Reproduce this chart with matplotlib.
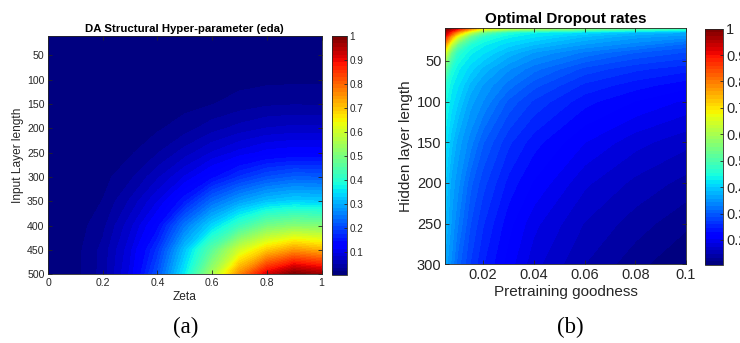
import numpy as np
import matplotlib
matplotlib.use("Agg")
import matplotlib.pyplot as plt

plt.rcParams["font.family"] = ["Liberation Sans", "DejaVu Sans"]

# ---- Panel (a): DA structural hyper-parameter over zeta / input layer length
zeta = [0.0, 0.1, 0.2, 0.3, 0.4, 0.5, 0.6, 0.7, 0.8, 0.9, 1.0]
input_len = [0, 50, 100, 150, 200, 250, 300, 350, 400, 450, 500]
eda = [
    [0.003, 0.003, 0.004, 0.004, 0.005, 0.005, 0.006, 0.006, 0.007, 0.007, 0.007],
    [0.003, 0.004, 0.004, 0.005, 0.006, 0.007, 0.008, 0.009, 0.009, 0.010, 0.010],
    [0.004, 0.004, 0.005, 0.006, 0.008, 0.0095, 0.011, 0.013, 0.0145, 0.015, 0.015],
    [0.004, 0.004, 0.005, 0.007, 0.0095, 0.013, 0.018, 0.025, 0.031, 0.033, 0.032],
    [0.004, 0.005, 0.006, 0.009, 0.016, 0.027, 0.043, 0.056, 0.066, 0.070, 0.070],
    [0.004, 0.006, 0.009, 0.016, 0.033, 0.057, 0.082, 0.102, 0.118, 0.124, 0.122],
    [0.004, 0.007, 0.013, 0.030, 0.062, 0.098, 0.137, 0.177, 0.207, 0.223, 0.220],
    [0.004, 0.009, 0.019, 0.052, 0.096, 0.156, 0.234, 0.285, 0.320, 0.336, 0.330],
    [0.004, 0.010, 0.029, 0.075, 0.135, 0.247, 0.338, 0.420, 0.490, 0.513, 0.505],
    [0.005, 0.012, 0.039, 0.091, 0.180, 0.320, 0.460, 0.600, 0.690, 0.745, 0.720],
    [0.005, 0.013, 0.040, 0.100, 0.210, 0.360, 0.550, 0.760, 0.920, 1.000, 0.970],
]

# ---- Panel (b): optimal dropout rate over pretraining goodness / hidden length
goodness = [0.005, 0.0075, 0.01, 0.015, 0.02, 0.03, 0.04, 0.06, 0.08, 0.1]
hidden_len = [10, 15, 20, 30, 40, 60, 80, 100, 150, 200, 250, 300]
dropout = [
    [1.000, 0.960, 0.920, 0.800, 0.700, 0.640, 0.610, 0.570, 0.530, 0.500],
    [0.950, 0.870, 0.770, 0.630, 0.530, 0.455, 0.430, 0.410, 0.385, 0.370],
    [0.900, 0.770, 0.660, 0.530, 0.465, 0.430, 0.415, 0.385, 0.362, 0.350],
    [0.770, 0.630, 0.530, 0.455, 0.430, 0.405, 0.385, 0.355, 0.335, 0.310],
    [0.660, 0.530, 0.465, 0.430, 0.415, 0.380, 0.355, 0.325, 0.300, 0.285],
    [0.530, 0.455, 0.430, 0.405, 0.380, 0.345, 0.320, 0.282, 0.262, 0.250],
    [0.465, 0.430, 0.415, 0.380, 0.355, 0.322, 0.292, 0.255, 0.237, 0.222],
    [0.445, 0.420, 0.400, 0.362, 0.342, 0.297, 0.270, 0.236, 0.216, 0.200],
    [0.420, 0.390, 0.365, 0.335, 0.302, 0.262, 0.237, 0.203, 0.180, 0.165],
    [0.400, 0.365, 0.348, 0.305, 0.278, 0.240, 0.215, 0.178, 0.157, 0.142],
    [0.385, 0.355, 0.330, 0.287, 0.260, 0.222, 0.193, 0.160, 0.140, 0.122],
    [0.365, 0.340, 0.308, 0.272, 0.246, 0.210, 0.180, 0.147, 0.124, 0.105],
]

a_xticks = [0, 0.2, 0.4, 0.6, 0.8, 1]
a_xticklabels = ["0", "0.2", "0.4", "0.6", "0.8", "1"]
a_yticks = [50, 100, 150, 200, 250, 300, 350, 400, 450, 500]
a_cticks = [0.1, 0.2, 0.3, 0.4, 0.5, 0.6, 0.7, 0.8, 0.9, 1]
a_cticklabels = ["0.1", "0.2", "0.3", "0.4", "0.5", "0.6", "0.7", "0.8", "0.9", "1"]

b_xticks = [0.02, 0.04, 0.06, 0.08, 0.1]
b_xticklabels = ["0.02", "0.04", "0.06", "0.08", "0.1"]
b_yticks = [50, 100, 150, 200, 250, 300]
b_cticks = [0.2, 0.3, 0.4, 0.5, 0.6, 0.7, 0.8, 0.9, 1]
b_cticklabels = ["0.2", "0.3", "0.4", "0.5", "0.6", "0.7", "0.8", "0.9", "1"]

EDGE = (0.15, 0.15, 0.15)
cmap = plt.get_cmap("jet", 64)

fig = plt.figure(figsize=(7.4, 3.43), dpi=100)


def style_axes(ax, fs, lw=0.6):
    for s in ax.spines.values():
        s.set_color(EDGE)
        s.set_linewidth(lw)
    ax.tick_params(direction="in", length=3, width=lw, colors=EDGE,
                   labelsize=fs, top=True, right=True, pad=2.5)


def style_cbar(cb, fs, lw=0.6):
    cb.outline.set_edgecolor(EDGE)
    cb.outline.set_linewidth(lw)
    cb.ax.tick_params(direction="in", length=2.5, width=lw, colors=EDGE,
                      labelsize=fs, pad=2)


def heat(ax, cax, x, y, z, fs_tick, fs_cbar, cticks, cticklabels):
    z = np.asarray(z)
    lo, hi = z.min(), z.max()
    levels = np.linspace(lo, hi, 129)
    cs = ax.contourf(x, y, z, levels=levels, cmap=cmap, vmin=lo, vmax=hi)
    cb = fig.colorbar(cs, cax=cax)
    cb.set_ticks(cticks)
    cb.set_ticklabels(cticklabels)
    style_axes(ax, fs_tick)
    style_cbar(cb, fs_cbar)
    return cs


# Panel (a)
ax1 = fig.add_axes([0.0649, 0.2003, 0.3696, 0.6948])
cax1 = fig.add_axes([0.4482, 0.1983, 0.0203, 0.697])
heat(ax1, cax1, zeta, input_len, eda, 7.6, 7.1, a_cticks, a_cticklabels)
ax1.set_xlim(0, 1)
ax1.set_ylim(500, 10)
ax1.set_xticks(a_xticks)
ax1.set_xticklabels(a_xticklabels)
ax1.set_yticks(a_yticks)
ax1.set_title("DA Structural Hyper-parameter (eda)", fontsize=8.2,
              fontweight="bold", pad=3)
ax1.set_xlabel("Zeta", fontsize=8.6, color=EDGE, labelpad=2)
ax1.set_ylabel("Input Layer length", fontsize=8.6, color=EDGE, labelpad=2)

# Panel (b)
ax2 = fig.add_axes([0.6014, 0.2294, 0.3257, 0.688])
cax2 = fig.add_axes([0.9527, 0.2274, 0.0247, 0.689])
heat(ax2, cax2, goodness, hidden_len, dropout, 10.5, 10.5, b_cticks, b_cticklabels)
ax2.set_xlim(0.005, 0.1)
ax2.set_ylim(300, 10)
ax2.set_xticks(b_xticks)
ax2.set_xticklabels(b_xticklabels)
ax2.set_yticks(b_yticks)
ax2.set_title("Optimal Dropout rates", fontsize=11, fontweight="bold", pad=4)
ax2.set_xlabel("Pretraining goodness", fontsize=11, color=EDGE, labelpad=2)
ax2.set_ylabel("Hidden layer length", fontsize=11, color=EDGE, labelpad=3)

# Sub-figure captions
fig.text(186 / 740, 1 - 327 / 343, "(a)", ha="center", va="center",
         fontsize=16.5, family=["Liberation Serif", "DejaVu Serif"])
fig.text(570 / 740, 1 - 327 / 343, "(b)", ha="center", va="center",
         fontsize=16.5, family=["Liberation Serif", "DejaVu Serif"])

fig.savefig("out.png", dpi=100)
